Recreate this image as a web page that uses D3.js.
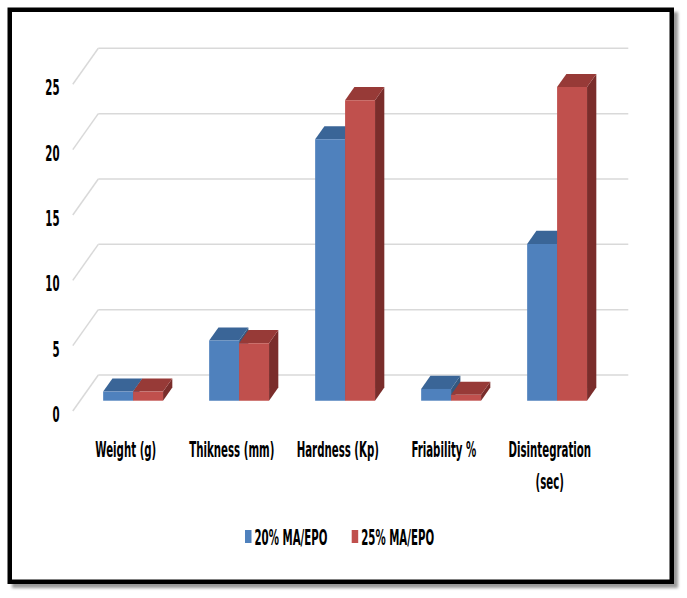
<!DOCTYPE html>
<html>
<head>
<meta charset="utf-8">
<script src="https://cdn.jsdelivr.net/npm/d3@7"></script>
<style>
  body { margin: 0; background: #fff; }
  svg text { font-family: "Liberation Sans Narrow", "Arial Narrow", "DejaVu Sans Condensed", sans-serif; font-weight: bold; fill: #000; font-size: 15px; }
</style>
</head>
<body>
<div id="chart"></div>
<script>
(function () {

// Data
const categories = ["Weight (g)", "Thikness (mm)", "Hardness (Kp)", "Friability %", "Disintegration (sec)"];
const categoryLines = [["Weight (g)"], ["Thikness (mm)"], ["Hardness (Kp)"], ["Friability %"], ["Disintegration", "(sec)"]];
const seriesNames = ["20% MA/EPO", "25% MA/EPO"];
const values20 = [0.7, 4.6, 20, 0.9, 12];
const values25 = [0.7, 4.4, 23, 0.45, 24];
const yTicks = [0, 5, 10, 15, 20, 25];

const width = 687, height = 598;

// colours: front, top, side
const colors = [
    { front: "#4F81BD", top: "#3A6597", side: "#34587F" },
    { front: "#C0504D", top: "#973A37", side: "#7A2D2B" }
];

// 3d geometry: depth 0 = back wall, 1 = front edge of the floor
const depthDx = -25.5, depthDy = 36;
const barFront = 0.714, barBack = 0.35;
const proj = (x, y, d) => [x + depthDx * d, y + depthDy * d];

const svg = d3.select("#chart").append("svg")
    .attr("width", width)
    .attr("height", height);

// The original text is a narrow, tall face: squeeze whatever font we got
const probe = svg.append("text").text("Weight (g)");
const sx = 61 / probe.node().getComputedTextLength();
probe.remove();
const sy = 1.38;
const squeeze = `scale(${sx}, ${sy})`;

// Frame with shadow
const defs = svg.append("defs");
defs.append("filter").attr("id", "blur")
    .append("feGaussianBlur").attr("stdDeviation", 1.8);

svg.append("rect")
    .attr("x", 12).attr("y", 12)
    .attr("width", 666).attr("height", 576)
    .attr("fill", "#9a9a9a")
    .attr("filter", "url(#blur)");

svg.append("rect")
    .attr("x", 9.75).attr("y", 9.75)
    .attr("width", 662).attr("height", 572)
    .attr("fill", "#fff")
    .attr("stroke", "#000")
    .attr("stroke-width", 4.5);

// Scales (back wall coordinates)
const y = d3.scaleLinear().domain([0, 25]).range([375, 48.3]);
const x0 = d3.scaleBand().domain(categories).range([98.3, 628.3]);
const x1 = d3.scaleBand().domain(seriesNames).range([0, x0.bandwidth()]).paddingOuter(0.77);

// Gridlines on the back wall and the side wall
const grid = svg.append("g")
    .attr("stroke", "#D9D9D9")
    .attr("stroke-width", 1.5)
    .attr("fill", "none");

grid.selectAll(".back")
    .data(yTicks)
    .enter()
    .append("line")
    .attr("x1", x0.range()[0]).attr("x2", x0.range()[1])
    .attr("y1", d => y(d)).attr("y2", d => y(d));

grid.selectAll(".side")
    .data(yTicks)
    .enter()
    .append("line")
    .attr("x1", x0.range()[0]).attr("y1", d => y(d))
    .attr("x2", d => proj(x0.range()[0], y(d), 1)[0])
    .attr("y2", d => proj(x0.range()[0], y(d), 1)[1]);

// Y tick labels (front edge)
svg.selectAll(".ytick")
    .data(yTicks)
    .enter()
    .append("text")
    .attr("class", "ytick")
    .attr("text-anchor", "end")
    .attr("transform", d => {
        const p = proj(x0.range()[0], y(d), 1);
        return `translate(59.5, ${p[1] + 11}) ${squeeze}`;
    })
    .text(d => d);

// Bars
const bars = [];
categories.forEach((c, i) => {
    [values20, values25].forEach((vals, s) => {
        bars.push({ cat: c, s: s, value: vals[i] });
    });
});

const poly = pts => pts.map(p => p.join(",")).join(" ");

svg.selectAll(".bar")
    .data(bars)
    .enter()
    .append("g")
    .attr("class", "bar")
    .each(function (d) {
        const g = d3.select(this);
        const xl = x0(d.cat) + x1(seriesNames[d.s]);
        const xr = xl + x1.bandwidth();
        const yt = y(d.value), yb = y(0);
        const fTL = proj(xl, yt, barFront), fTR = proj(xr, yt, barFront);
        const fBL = proj(xl, yb, barFront), fBR = proj(xr, yb, barFront);
        const bTL = proj(xl, yt, barBack), bTR = proj(xr, yt, barBack);
        const bBR = proj(xr, yb, barBack);
        const col = colors[d.s];
        g.append("polygon").attr("points", poly([fTR, bTR, bBR, fBR])).attr("fill", col.side);
        g.append("polygon").attr("points", poly([fTL, bTL, bTR, fTR])).attr("fill", col.top);
        g.append("polygon").attr("points", poly([fTL, fTR, fBR, fBL])).attr("fill", col.front);
    });

// Category labels (front edge)
categories.forEach((c, i) => {
    const cx = proj(x0(c) + x0.bandwidth() / 2, y(0), 1)[0];
    categoryLines[i].forEach((line, j) => {
        svg.append("text")
            .attr("text-anchor", "middle")
            .attr("transform", `translate(${cx}, ${456.7 + j * 32.5}) ${squeeze}`)
            .text(line);
    });
});

// Legend
const legendX = [245, 351.7];
const legend = svg.selectAll(".legend")
    .data(seriesNames)
    .enter()
    .append("g")
    .attr("class", "legend")
    .attr("transform", (d, i) => `translate(${legendX[i]}, 530)`);

legend.append("rect")
    .attr("width", 6.5)
    .attr("height", 13)
    .attr("fill", (d, i) => colors[i].front);

legend.append("text")
    .attr("transform", `translate(9.5, 14.7) ${squeeze}`)
    .text(d => d);

})();
</script>
</body>
</html>
